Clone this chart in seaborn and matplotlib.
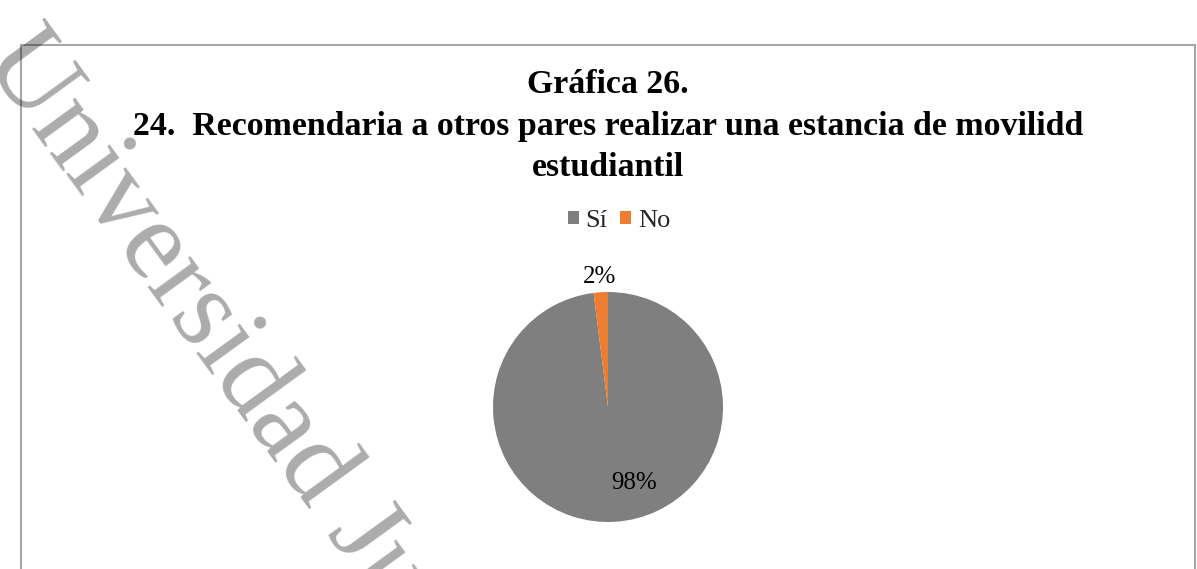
import matplotlib
matplotlib.use('Agg')
import matplotlib.pyplot as plt
import seaborn as sns
import numpy as np
from matplotlib.patches import Patch, Rectangle

# datos de la grafica
categorias = ['Sí', 'No']
porcentajes = [98, 2]
colores = ['#7f7f7f', '#ed7d31']

titulo = 'Gráfica 26.\n24.  Recomendaria a otros pares realizar una estancia de movilidd\nestudiantil'
marca_agua = 'Universidad Juárez'

sns.set_theme(style='white')
plt.rcParams['font.family'] = ['Liberation Serif', 'DejaVu Serif']

W, H = 1197, 569
fig = plt.figure(figsize=(W / 100, H / 100), dpi=100)
fig.patch.set_facecolor('white')

# marco del grafico
fig.patches.append(Rectangle((21 / W, -0.1), (1195 - 21) / W, (H - 45) / H + 0.1,
                             transform=fig.transFigure, fill=False,
                             edgecolor='#a6a6a6', linewidth=1.5))

# titulo
fig.text(608 / W, 1 - 126 / H, titulo, ha='center', va='center', fontsize=24.4,
         fontweight='bold', linespacing=1.42, color='black')

# pastel
cx, cy, r = 608, 407, 115
ax = fig.add_axes([(cx - r) / W, (H - cy - r) / H, 2 * r / W, 2 * r / H])
wedges, texts, autotexts = ax.pie(porcentajes, colors=colores, startangle=90,
                                  counterclock=False, autopct='%1.0f%%',
                                  pctdistance=0.7, radius=1,
                                  wedgeprops=dict(linewidth=0),
                                  textprops=dict(fontsize=18, color='black'))
ax.set_xlim(-1, 1)
ax.set_ylim(-1, 1)
ax.set_aspect('equal')
ax.axis('off')

# etiqueta de 2% fuera del pastel
for w, t in zip(wedges, autotexts):
    ang = np.deg2rad((w.theta1 + w.theta2) / 2)
    if (w.theta2 - w.theta1) < 20:
        t.set_position((1.13 * np.cos(ang), 1.13 * np.sin(ang)))
    else:
        t.set_position((0.23, -0.66))
    t.set_clip_on(False)

# leyenda
handles = [Patch(facecolor=c, edgecolor='none', label=l) for c, l in zip(colores, categorias)]
fig.legend(handles=handles, loc='center', bbox_to_anchor=(619 / W, 1 - 221 / H),
           ncol=2, frameon=False, fontsize=19, handlelength=0.42, handleheight=0.42,
           handletextpad=0.25, columnspacing=0.5)

# marca de agua
fig.text(-18, H - 59, marca_agua, transform=None, rotation=-54, rotation_mode='anchor',
         ha='left', va='baseline', fontsize=82, color='black', alpha=0.33, zorder=10)

fig.savefig('out.png', dpi=100, facecolor='white')
